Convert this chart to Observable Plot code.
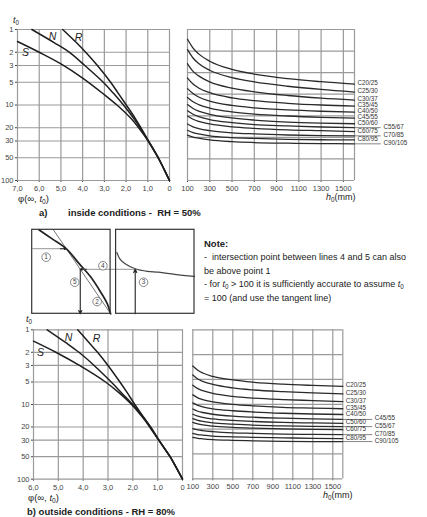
<!DOCTYPE html>
<html><head><meta charset="utf-8">
<script src="https://cdn.jsdelivr.net/npm/d3@7"></script>
<script src="https://cdn.jsdelivr.net/npm/@observablehq/plot@0.6"></script>
<style>
body{margin:0;background:#fff;font-family:"Liberation Sans",Arial,Helvetica,sans-serif;color:#222}
#root{position:relative;width:427px;height:517px;overflow:hidden;background:#fff}
.abs{position:absolute;white-space:nowrap;line-height:1}
.sub{font-size:70%;position:relative;top:0.35em}
.b{font-weight:bold}
</style></head><body><div id="root"></div>
<script>
// ---------- data ----------
const t0Ticks = [1, 2, 3, 5, 10, 20, 30, 50, 100];
const phiTicksA = [7, 6, 5, 4, 3, 2, 1, 0];
const phiTicksB = [6, 5, 4, 3, 2, 1, 0];
const hTicks = [100, 300, 500, 700, 900, 1100, 1300, 1500];
const hGrid = [100, 300, 500, 700, 900, 1100, 1300, 1500, 1600];
const vGridA = [0, 1, 2, 3, 4, 5, 6, 7];
const vGridB = [0, 1, 2, 3, 4, 5, 6];

// RH = 50 %: phi(inf, t0) read along t0 for cement classes S, N, R
const sT0A  = [1.44, 2, 2.85, 4.4, 7.3, 10, 15, 20, 30, 50, 70, 100];
const sPhiA = [7, 6, 5, 4, 3, 2.42, 1.78, 1.42, 0.98, 0.52, 0.26, 0];
const nT0A  = [1, 1.5, 2, 3, 5, 7, 10, 15, 20, 30, 50, 70, 100];
const nPhiA = [6.34, 5.3, 4.62, 3.9, 3.05, 2.58, 2.12, 1.65, 1.35, 0.98, 0.52, 0.26, 0];
const rT0A  = [1, 1.5, 2, 3, 5, 7, 10, 15, 20, 30, 50, 70, 100];
const rPhiA = [4.92, 4.28, 3.86, 3.32, 2.71, 2.36, 1.99, 1.58, 1.32, 0.96, 0.51, 0.26, 0];

// RH = 80 %
const sT0B  = [1.42, 2, 3, 5, 7, 10, 15, 20, 30, 50, 70, 100];
const sPhiB = [6, 5.1, 4.15, 3.1, 2.55, 2.05, 1.6, 1.32, 0.96, 0.5, 0.25, 0];
const nT0B  = [1, 1.5, 2, 3, 5, 7, 10, 15, 20, 30, 50, 70, 100];
const nPhiB = [5.45, 4.68, 4.17, 3.56, 2.87, 2.45, 2.0, 1.56, 1.28, 0.95, 0.5, 0.25, 0];
const rT0B  = [1, 1.5, 2, 3, 5, 7, 10, 15, 20, 30, 50, 70, 100];
const rPhiB = [4.22, 3.75, 3.42, 3.0, 2.52, 2.22, 1.92, 1.55, 1.3, 0.95, 0.5, 0.25, 0];

const cementNames = ["S", "N", "R"];
const namePhiA = [6.63, 5.39, 4.19];
const nameT0A  = [2.02, 1.24, 1.28];
const namePhiB = [5.72, 4.59, 3.46];
const nameT0B  = [2.01, 1.27, 1.31];

// concrete classes, curves versus h0 (mm)
const classes = ["C20/25","C25/30","C30/37","C35/45","C40/50","C45/55","C50/60","C55/67","C60/75","C70/85","C80/95","C90/105"];
const h0 = [100, 150, 200, 300, 500, 700, 1000, 1300, 1600];
const rh50 = [
 [6.55,6.14,5.87,5.53,5.15,4.93,4.72,4.58,4.47],
 [6.07,5.68,5.42,5.11,4.77,4.57,4.37,4.22,4.10],
 [5.41,5.06,4.85,4.57,4.28,4.11,3.94,3.82,3.73],
 [4.75,4.47,4.29,4.07,3.83,3.70,3.58,3.50,3.45],
 [4.26,4.03,3.87,3.68,3.48,3.37,3.27,3.21,3.17],
 [3.85,3.65,3.52,3.36,3.18,3.08,2.99,2.93,2.89],
 [3.52,3.34,3.22,3.07,2.90,2.80,2.71,2.66,2.63],
 [3.23,3.07,2.96,2.82,2.68,2.59,2.53,2.48,2.45],
 [2.99,2.84,2.74,2.62,2.49,2.42,2.35,2.31,2.27],
 [2.62,2.49,2.41,2.31,2.21,2.16,2.11,2.08,2.07],
 [2.33,2.22,2.16,2.07,1.99,1.95,1.91,1.89,1.88],
 [2.10,2.01,1.96,1.88,1.80,1.76,1.73,1.71,1.70]];
const rh80 = [
 [4.54,4.37,4.26,4.12,3.98,3.89,3.81,3.76,3.72],
 [4.18,4.02,3.92,3.80,3.66,3.58,3.51,3.46,3.42],
 [3.77,3.63,3.55,3.44,3.32,3.25,3.19,3.15,3.11],
 [3.38,3.26,3.19,3.10,3.00,2.94,2.88,2.85,2.82],
 [3.06,2.96,2.90,2.82,2.74,2.69,2.64,2.61,2.59],
 [2.81,2.72,2.67,2.60,2.52,2.48,2.44,2.41,2.39],
 [2.60,2.52,2.47,2.41,2.35,2.31,2.27,2.25,2.23],
 [2.42,2.35,2.31,2.25,2.20,2.16,2.13,2.11,2.10],
 [2.27,2.21,2.17,2.12,2.07,2.04,2.01,1.99,1.98],
 [2.02,1.97,1.94,1.90,1.85,1.83,1.80,1.79,1.78],
 [1.83,1.78,1.76,1.72,1.69,1.67,1.65,1.63,1.62],
 [1.67,1.63,1.61,1.58,1.55,1.53,1.51,1.50,1.50]];
const rightColA = ["C55/67","C70/85","C90/105"];
const rightColB = ["C45/55","C55/67","C70/85","C90/105"];

// schematic (explanation of the nomogram), arbitrary units
const boxX1 = [0, 10.7];
const boxX2 = [10, 20.7];
const schemCurveU = [0.85, 2.55, 4.34, 5.96, 7.45, 8.72, 9.57, 10];
const schemCurveW = [10, 8.92, 7.75, 6.0, 4.4, 2.6, 1.2, 0];
const tangentU = [2.7, 10];
const tangentW = [10, 0];
const hCurveU = [10.8, 11.2, 11.85, 13.14, 14.7, 16.1, 18.2, 20.7];
const hCurveW = [7.3, 6.5, 5.95, 5.36, 5.05, 4.95, 4.7, 4.45];
const grayU1 = [0, 13.14];   const grayU2 = [4.34, 6.13];  const grayW = [7.75, 5.3];
const arrU1 = [3.6, 6.9, 6.13, 13.14];
const arrW1 = [7.75, 5.3, 5.3, 0];
const arrU2 = [4.34, 6.13, 6.13, 13.14];
const arrW2 = [7.75, 5.3, 0, 5.3];
const stepNo = ["1", "2", "3", "4", "5"];
const stepU = [1.78, 8.28, 14.2, 9.02, 5.43];
const stepW = [6.74, 1.46, 3.76, 5.72, 3.76];

// ---------- helpers ----------
const FONT = '"Liberation Sans", Arial, Helvetica, sans-serif';
const root = document.getElementById("root");
const style = {background: "transparent", fontFamily: FONT, fontSize: "7.5px", color: "#444", overflow: "visible"};
const GRID = {stroke: "#9a9a9a", strokeWidth: 1.2, strokeOpacity: 1};
const CURVE = {stroke: "#1e1e1e", strokeWidth: 1.5};
const fmtPhi = d => d === 0 ? "0" : d.toFixed(1).replace(".", ",");
const pts = (xs, ys) => xs.map((x, i) => ({x, y: ys[i]}));

function place(el, left, top) {
  const d = document.createElement("div");
  d.style.cssText = `position:absolute;left:${left}px;top:${top}px`;
  d.append(el); root.append(d);
}
function text(html, left, top, size, cls = "") {
  const d = document.createElement("div");
  d.className = "abs " + cls;
  d.style.cssText = `left:${left}px;top:${top}px;font-size:${size}px`;
  d.innerHTML = html; root.append(d);
}

function leftPanel(o) {
  const lines = [o.s, o.n, o.r];
  const names = cementNames.map((c, i) => ({c, x: o.namePhi[i], y: o.nameT0[i]}));
  return Plot.plot({
    width: o.w, height: o.h, marginLeft: o.ml, marginRight: o.mr, marginTop: o.mt, marginBottom: o.mb,
    style,
    x: {domain: [o.ticks[0], 0], ticks: o.ticks, tickFormat: fmtPhi, label: null, tickSize: 2, tickPadding: 3},
    y: {type: "log", domain: [1, 100], reverse: true, ticks: t0Ticks, tickFormat: d => String(d), label: null, tickSize: 2, tickPadding: 2},
    marks: [
      Plot.ruleX(o.ticks, GRID),
      Plot.ruleY(t0Ticks, GRID),
      ...lines.map(([ts, ps]) => Plot.line(pts(ps, ts), {x: "x", y: "y", curve: "catmull-rom", ...CURVE})),
      Plot.text(names, {x: "x", y: "y", text: "c", fontSize: 10.5, fontStyle: "italic", fill: "#222"})
    ]
  });
}

function rightPanel(o) {
  const rows = classes.flatMap((c, i) => h0.map((h, j) => ({c, h, v: o.vals[i][j]})));
  const last = h0.length - 1;
  const labs = classes.map((c, i) => ({c, v: o.vals[i][last], right: o.rightCol.includes(c)}));
  return Plot.plot({
    width: o.w, height: o.h, marginLeft: o.ml, marginRight: o.mr, marginTop: o.mt, marginBottom: o.mb,
    style,
    x: {domain: [100, 1600], ticks: hTicks, tickFormat: d => String(d), label: null, tickSize: 2, tickPadding: 3},
    y: {domain: [0, o.vmax], axis: null},
    marks: [
      Plot.ruleX(hGrid, GRID),
      Plot.ruleY(o.vGrid, GRID),
      Plot.line(rows, {x: "h", y: "v", z: "c", curve: "monotone-x", stroke: "#2a2a2a", strokeWidth: 1.3}),
      Plot.ruleY(labs.filter(d => d.right), {y: "v", x1: () => 1600, x2: () => o.leaderEnd, stroke: "#666", strokeWidth: 0.8}),
      Plot.text(labs.filter(d => !d.right), {x: () => 1600, y: "v", text: "c", textAnchor: "start", dx: 3, dy: -1, fontSize: 6.3, fill: "#333"}),
      Plot.text(labs.filter(d => d.right), {x: () => 1600, y: "v", text: "c", textAnchor: "start", dx: o.rightDx, dy: -1, fontSize: 6.3, fill: "#333"})
    ]
  });
}

// ---------- panels ----------
place(leftPanel({w: 185, h: 205, ml: 17, mr: 16, mt: 29, mb: 25, ticks: phiTicksA,
  s: [sT0A, sPhiA], n: [nT0A, nPhiA], r: [rT0A, rPhiA], namePhi: namePhiA, nameT0: nameT0A}), 0, 0);

place(rightPanel({w: 247, h: 205, ml: 7, mr: 73, mt: 29, mb: 25, vmax: 7, vGrid: vGridA,
  vals: rh50, rightCol: rightColA, leaderEnd: 1840, rightDx: 29}), 180, 0);

place(leftPanel({w: 195, h: 195, ml: 33, mr: 13, mt: 19.3, mb: 26.3, ticks: phiTicksB,
  s: [sT0B, sPhiB], n: [nT0B, nPhiB], r: [rT0B, rPhiB], namePhi: namePhiB, nameT0: nameT0B}), 0, 310);

place(rightPanel({w: 242, h: 195, ml: 7.3, mr: 84.7, mt: 19.3, mb: 26.7, vmax: 6, vGrid: vGridB,
  vals: rh80, rightCol: rightColB, leaderEnd: 1900, rightDx: 32}), 185, 310);

// schematic
const boxes = boxX1.map((x1, i) => ({x1, x2: boxX2[i], y1: 0, y2: 10}));
const grays = grayU1.map((u, i) => ({x1: u, x2: grayU2[i], y: grayW[i]}));
const arrows = arrU1.map((u, i) => ({x1: u, y1: arrW1[i], x2: arrU2[i], y2: arrW2[i]}));
const steps = stepNo.map((s, i) => ({s, x: stepU[i], y: stepW[i]}));
place(Plot.plot({
  width: 172, height: 95, marginLeft: 4.7, marginRight: 5, marginTop: 5.3, marginBottom: 5.7,
  style,
  x: {domain: [0, 20.7], axis: null},
  y: {domain: [0, 10], axis: null},
  marks: [
    Plot.line(pts(tangentU, tangentW), {x: "x", y: "y", stroke: "#666", strokeWidth: 0.9}),
    Plot.line(pts(schemCurveU, schemCurveW), {x: "x", y: "y", curve: "catmull-rom", stroke: "#222", strokeWidth: 1.7}),
    Plot.line(pts(hCurveU, hCurveW), {x: "x", y: "y", curve: "catmull-rom", stroke: "#444", strokeWidth: 1.2}),
    Plot.link(grays, {x1: "x1", x2: "x2", y1: "y", y2: "y", stroke: "#aaa", strokeWidth: 1.2}),
    Plot.arrow(arrows, {x1: "x1", y1: "y1", x2: "x2", y2: "y2", stroke: "#222", strokeWidth: 1.1, headLength: 5, headAngle: 50}),
    Plot.rect(boxes, {x1: "x1", x2: "x2", y1: "y1", y2: "y2", fill: "none", stroke: "#333", strokeWidth: 1.2}),
    Plot.dot(steps, {x: "x", y: "y", r: 4.3, stroke: "#555", strokeWidth: 0.7, fill: "white"}),
    Plot.text(steps, {x: "x", y: "y", text: "s", fontSize: 6.5, fill: "#444"})
  ]
}), 27, 224);

// ---------- texts ----------
const tSub = '<i>t</i><span class="sub">0</span>';
text(tSub, 13, 16, 9);
text('φ(∞, ' + tSub + ')', 18, 194, 9.5);
text('a)', 39, 208, 9.5, "b");
text('inside conditions -&nbsp; RH = 50%', 68, 208, 9.5, "b");
text('<i>h</i><span class="sub">0</span>(mm)', 326, 193, 9);

text('Note:', 204, 239, 9.5, "b");
text('-&nbsp; intersection point between lines 4 and 5 can also', 204, 253, 9);
text('be above point 1', 204, 266.5, 9);
text('- for ' + tSub + ' &gt; 100 it is sufficiently accurate to assume ' + tSub, 204, 280, 9);
text('= 100 (and use the tangent line)', 204, 293.5, 9);

text(tSub, 26, 315, 9);
text('φ(∞, ' + tSub + ')', 28, 493, 9.5);
text('b) outside conditions - RH = 80%', 27, 507, 9.5, "b");
text('<i>h</i><span class="sub">0</span>(mm)', 323, 491, 9);
</script></body></html>
